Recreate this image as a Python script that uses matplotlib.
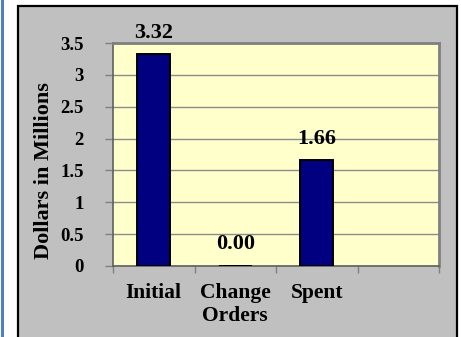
import matplotlib.pyplot as plt
from matplotlib.patches import Rectangle
from matplotlib.lines import Line2D

# бюджет проекта, млн долларов
categories = ["Initial", "Change\nOrders", "Spent", ""]
values = [3.32, 0.00, 1.66, None]
y_ticks = [0, 0.5, 1, 1.5, 2, 2.5, 3, 3.5]
y_tick_labels = ["0", "0.5", "1", "1.5", "2", "2.5", "3", "3.5"]

plt.rcParams["font.family"] = ["Liberation Serif", "DejaVu Serif"]
plt.rcParams["font.weight"] = "bold"

fig = plt.figure(figsize=(4.61, 3.37), dpi=100)
W, H = 461, 337

# синяя полоса слева и серая рамка диаграммы (под осями)
fig.add_artist(Line2D([2 / W, 2 / W], [0, 1], color="#4F81BD", lw=2.2, zorder=-2))
fig.add_artist(Rectangle((18 / W, -0.05), 439 / W, (337 - 6) / H + 0.05,
                         facecolor="#C0C0C0", edgecolor="black", lw=1.6, zorder=-1))

ax = fig.add_axes([113 / W, 1 - 266 / H, (439 - 113) / W, (266 - 43) / H])
ax.set_facecolor("#FFFFCC")

xs = [i for i, v in enumerate(values) if v is not None]
hs = [v for v in values if v is not None]
ax.bar(xs, hs, width=0.41, color="#000080", edgecolor="black", lw=1.4, zorder=3)

for x, v in zip(xs, hs):
    ax.annotate(f"{v:.2f}", (x, v), xytext=(0, 15.5), textcoords="offset points",
                ha="center", va="center", fontsize=16, fontweight="bold",
                annotation_clip=False)

ax.set_xlim(-0.5, len(categories) - 0.5)
ax.set_ylim(0, 3.5)
ax.set_yticks(y_ticks)
ax.set_yticklabels(y_tick_labels, fontsize=13.5, fontweight="bold")
ax.yaxis.grid(True, color="#8C8C8C", lw=1)
ax.set_axisbelow(True)

# подписи категорий по центру, засечки между ними
ax.set_xticks(range(len(categories)))
ax.set_xticklabels(categories, fontsize=15.5, fontweight="bold", linespacing=1.2)
ax.set_xticks([i - 0.5 for i in range(len(categories) + 1)], minor=True)
ax.tick_params(axis="x", which="major", length=0, pad=12)
ax.tick_params(axis="x", which="minor", length=5, color="#808080", width=1)
ax.tick_params(axis="y", length=6, color="#808080", width=1, pad=15)

for side in ["top", "right"]:
    ax.spines[side].set_color("#808080")
    ax.spines[side].set_linewidth(2)
for side in ["left", "bottom"]:
    ax.spines[side].set_color("#606060")
    ax.spines[side].set_linewidth(1.2)

fig.text(44 / W, 1 - 171 / H, "Dollars in Millions", rotation=90,
         ha="center", va="center", fontsize=16, fontweight="bold")

plt.savefig("out.png", dpi=100)
